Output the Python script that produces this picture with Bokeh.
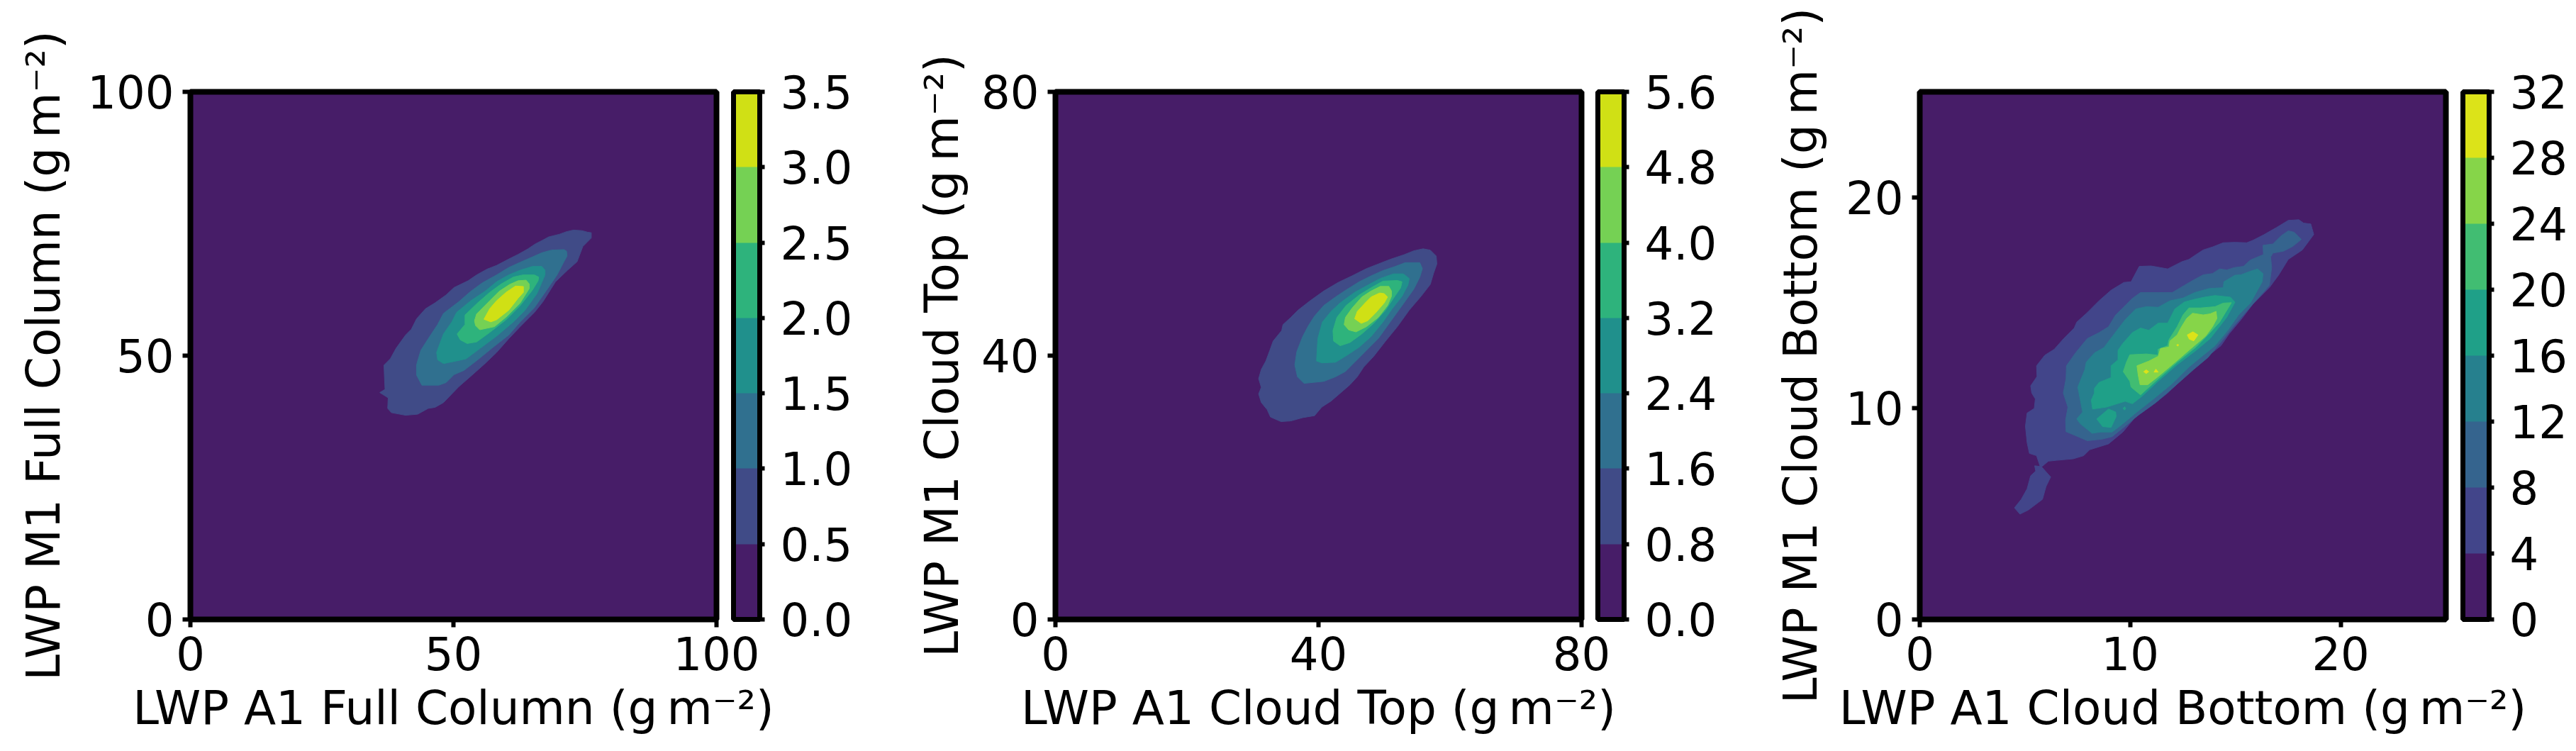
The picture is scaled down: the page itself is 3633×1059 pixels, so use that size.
from bokeh.embed import file_html
from bokeh.layouts import row
from bokeh.models import ColorBar, FixedTicker, LinearColorMapper, Range1d
from bokeh.plotting import figure
from bokeh.resources import INLINE

FONT = "DejaVu Sans"
TICK_SIZE = "64px"
LABEL_SIZE = "66px"

# contour outlines, (x, y) in g m-2
full_05 = [(76.2,73.3),(75.5,73.4),(74.4,73.7),(72.8,73.8),(71.5,73.5),(70.1,73.0),(68.1,72.5),(66.8,71.8),(65.6,71.2),(64.1,70.2),(62.3,69.2),(60.5,68.3),(58.2,67.1),(56.4,66.4),(54.4,65.3),(52.8,64.2),(50.1,62.9),(48.6,61.5),(46.5,60.0),(44.7,58.9),(43.0,57.0),(42.0,55.0),(40.9,53.9),(39.1,51.4),(38.0,49.4),(36.8,48.2),(36.9,45.6),(37.0,43.6),(36.0,43.0),(37.6,42.0),(37.5,40.0),(38.2,39.2),(40.9,38.7),(43.2,38.9),(45.2,40.0),(46.5,40.2),(48.1,41.1),(51.0,44.1),(53.3,46.1),(56.0,48.5),(58.2,50.6),(60.5,53.2),(62.7,55.5),(65.4,58.2),(67.0,60.2),(69.4,64.0),(71.7,66.2),(73.5,67.8),(74.6,70.7),(76.2,72.3)]
full_10 = [(71.5,69.8),(71.0,70.1),(68.6,70.0),(66.8,69.5),(65.0,68.7),(62.7,67.7),(60.5,66.7),(58.2,65.3),(55.5,63.8),(53.3,62.2),(51.0,60.2),(48.1,58.0),(47.0,55.9),(45.2,53.2),(43.8,51.0),(43.0,48.3),(43.0,46.3),(44.0,44.4),(47.2,44.4),(48.6,44.9),(50.1,46.4),(52.0,47.2),(54.6,49.2),(57.3,51.4),(60.5,53.9),(62.7,56.4),(65.4,59.1),(67.7,62.4),(69.7,65.3),(71.0,67.8),(71.6,68.9)]
full_15 = [(67.4,66.2),(66.8,66.9),(65.0,66.9),(62.7,66.2),(60.5,65.3),(58.2,64.0),(56.0,62.2),(53.3,60.4),(50.6,58.2),(49.7,56.4),(48.1,54.1),(46.8,50.6),(47.0,49.2),(48.1,48.5),(50.6,49.0),(52.4,49.4),(55.1,51.4),(58.2,53.7),(61.4,56.4),(63.6,58.6),(65.9,61.8),(67.4,65.3)]
full_20 = [(66.2,64.9),(65.4,65.3),(63.2,65.3),(61.4,64.9),(59.1,63.6),(56.9,62.0),(54.6,60.0),(52.2,57.7),(52.2,55.9),(50.7,54.1),(51.3,53.0),(52.6,52.3),(54.4,52.6),(56.9,54.4),(60.0,56.8),(62.7,59.5),(65.0,62.4),(66.1,64.2)]
full_25 = [(64.4,63.6),(63.8,64.3),(62.3,64.2),(60.7,63.5),(58.7,62.2),(56.9,60.4),(54.4,57.9),(54.0,56.6),(54.2,55.7),(55.0,54.9),(57.8,55.5),(60.0,57.3),(62.7,60.0),(64.4,62.7)]
full_30 = [(63.3,62.0),(63.3,63.1),(61.8,63.2),(60.0,62.0),(58.2,60.4),(56.9,58.9),(55.8,56.9),(57.1,56.4),(58.2,56.8),(60.5,58.6),(62.3,60.9)]

top_08 = [(55.9,56.2),(54.5,55.9),(53.0,55.3),(50.9,54.6),(49.1,53.9),(47.3,53.2),(45.1,52.1),(43.0,51.1),(40.8,49.8),(38.7,48.3),(36.9,46.9),(35.8,45.8),(34.6,44.7),(34.4,43.8),(33.1,42.2),(32.6,40.8),(32.0,39.2),(31.3,37.9),(30.9,36.5),(31.3,35.2),(30.9,34.2),(31.3,32.9),(32.2,31.8),(32.7,30.7),(34.3,30.0),(35.8,30.1),(37.6,30.6),(39.4,30.9),(40.5,32.2),(41.9,33.1),(43.3,34.3),(44.8,35.6),(45.9,36.8),(46.9,38.3),(48.4,39.9),(50.2,42.2),(52.0,44.4),(53.8,46.9),(55.6,49.0),(57.0,50.8),(57.5,52.5),(58.0,53.9),(57.9,55.1),(57.0,56.0)]
top_16 = [(55.4,54.1),(53.2,54.1),(51.6,53.5),(49.8,52.9),(48.0,52.1),(46.2,51.2),(44.1,49.9),(42.6,48.9),(40.8,47.6),(39.4,46.0),(38.5,44.6),(37.6,42.9),(36.7,40.6),(36.4,38.6),(36.8,36.8),(37.8,35.8),(40.8,36.1),(42.6,36.8),(44.1,37.6),(45.5,39.0),(47.3,40.8),(49.1,42.6),(50.9,45.1),(53.0,48.0),(54.5,50.1),(55.4,51.9),(55.8,53.2)]
top_24 = [(53.8,51.7),(52.9,52.4),(51.4,52.4),(49.4,51.7),(47.7,50.8),(45.5,49.6),(43.3,48.0),(41.9,46.7),(40.6,45.1),(39.9,42.6),(39.7,39.2),(40.5,38.9),(42.6,39.0),(44.4,40.1),(46.2,41.3),(48.0,42.9),(49.8,45.1),(51.2,47.1),(52.7,49.0),(53.6,50.7)]
top_32 = [(52.7,51.2),(52.0,51.4),(49.8,51.3),(48.0,50.3),(46.2,49.2),(44.2,47.6),(42.8,45.8),(42.2,43.8),(42.3,42.2),(43.3,41.5),(44.8,42.0),(46.6,43.3),(48.4,44.9),(50.2,46.9),(51.6,49.0),(52.5,50.3)]
top_40 = [(51.1,49.8),(50.7,50.5),(49.4,50.5),(48.0,49.8),(46.6,48.9),(45.1,47.2),(44.1,45.8),(43.9,44.7),(44.6,43.9),(45.7,43.6),(47.3,44.4),(49.1,45.8),(50.5,47.6),(51.1,49.0)]
top_48 = [(50.5,48.9),(50.0,49.4),(49.3,49.5),(48.0,48.9),(47.1,48.0),(45.9,46.7),(45.5,45.6),(46.5,44.9),(47.5,45.3),(48.7,46.5),(50.0,48.0)]

bottom_4 = [(18.72,18.24),(18.58,18.74),(18.24,18.78),(18.01,18.94),(17.51,18.91),(16.95,18.57),(16.33,18.22),(15.82,17.96),(15.54,17.85),(14.98,17.87),(14.42,17.85),(13.91,17.65),(13.47,17.51),(13.13,17.29),(12.79,17.06),(12.45,16.95),(11.78,16.61),(11.33,16.69),(10.99,16.75),(10.43,16.73),(10.04,16.00),(9.70,15.97),(9.09,15.60),(8.52,15.10),(7.96,14.54),(7.46,14.09),(7.34,13.81),(6.84,13.31),(6.39,12.80),(5.94,12.52),(5.55,12.02),(5.57,11.51),(5.27,11.07),(5.32,10.73),(5.49,10.45),(5.44,10.00),(5.10,9.78),(5.02,9.16),(5.10,8.38),(5.21,7.87),(5.55,7.76),(5.72,7.25),(5.46,7.28),(5.51,7.03),(5.27,6.81),(5.10,6.19),(4.82,5.69),(4.50,5.29),(4.76,4.99),(5.15,5.18),(5.83,5.69),(6.00,6.30),(6.22,6.75),(5.79,7.23),(6.11,7.50),(6.50,7.54),(7.29,7.61),(7.79,7.76),(8.07,8.04),(8.97,8.32),(9.65,8.88),(10.21,9.55),(10.99,10.11),(11.78,10.73),(12.57,11.51),(13.47,12.30),(14.31,12.97),(14.70,13.53),(15.26,14.20),(15.82,14.93),(16.61,15.72),(17.06,16.33),(17.51,17.06),(18.18,17.51)]
bottom_8 = [(18.13,18.01),(17.79,18.35),(17.51,18.41),(17.17,18.18),(16.78,17.79),(16.31,17.73),(16.33,17.29),(15.71,17.03),(15.38,16.73),(14.93,16.67),(14.59,16.56),(14.25,16.61),(13.91,16.39),(13.47,16.33),(13.02,16.09),(12.57,15.83),(12.00,15.49),(11.33,15.49),(10.49,15.49),(10.10,15.21),(9.65,14.76),(9.31,14.43),(8.97,13.87),(8.52,13.59),(7.96,13.31),(7.40,12.63),(6.97,12.02),(6.95,11.40),(6.82,10.73),(7.04,10.06),(6.93,9.44),(6.95,8.90),(7.40,8.71),(7.96,8.47),(8.64,8.54),(9.14,8.66),(9.76,9.16),(10.43,9.72),(11.22,10.28),(12.00,10.95),(13.02,11.85),(13.69,12.41),(14.36,13.20),(14.93,13.92),(15.66,14.76),(16.16,15.32),(16.61,15.83),(16.72,16.67),(16.67,17.17),(16.78,17.36),(17.28,17.45),(17.73,17.68)]
bottom_12 = [(16.31,16.39),(16.05,16.61),(15.71,16.50),(15.26,16.33),(14.98,16.31),(14.45,16.00),(14.42,15.72),(13.75,15.68),(13.07,15.49),(12.51,15.23),(11.89,15.10),(11.33,14.79),(10.77,14.82),(10.26,14.71),(9.76,14.20),(9.42,13.76),(8.75,12.88),(8.30,12.63),(7.91,12.19),(7.85,11.85),(7.51,11.01),(7.74,9.83),(7.46,9.50),(7.63,9.27),(8.19,8.82),(8.58,8.88),(9.14,8.88),(9.65,9.27),(10.32,9.83),(11.11,10.45),(12.00,11.18),(12.79,11.96),(13.47,12.52),(14.03,12.97),(14.59,13.64),(15.15,14.43),(15.71,14.99),(16.27,16.00)]
bottom_16 = [(14.98,15.04),(14.76,15.27),(14.03,15.35),(13.52,15.27),(13.02,15.16),(12.57,15.04),(12.12,14.71),(11.78,14.04),(11.33,14.04),(10.88,13.70),(10.49,13.81),(10.10,13.59),(9.65,13.08),(9.42,12.75),(9.42,12.30),(9.09,12.02),(9.09,11.46),(8.52,11.23),(8.30,10.95),(8.30,10.73),(8.15,10.39),(8.21,9.97),(8.86,10.06),(9.76,10.34),(10.10,10.22),(10.54,10.56),(11.33,11.29),(12.23,12.07),(13.13,12.75),(13.80,13.31),(14.59,14.32)]
bottom_16_low = [(8.41,9.50),(8.97,9.97),(9.31,9.83),(9.33,9.61),(9.09,9.10),(8.69,9.14)]
bottom_16_dot = [(9.66,10.00),(9.73,10.08),(9.79,10.00),(9.73,9.92)]
bottom_20 = [(14.81,15.01),(14.42,14.99),(14.03,14.82),(13.35,14.76),(12.79,14.76),(12.51,14.43),(12.23,13.87),(11.84,13.25),(11.78,12.97),(11.33,12.80),(11.33,12.52),(10.77,12.58),(9.98,12.54),(9.82,12.19),(9.67,11.74),(9.98,11.29),(10.04,11.01),(10.49,10.64),(11.33,11.40),(12.23,12.19),(13.13,12.91),(13.69,13.48),(14.25,14.09)]
bottom_24 = [(14.08,14.60),(13.80,14.48),(13.47,14.43),(12.96,14.51),(12.68,14.26),(12.40,13.81),(12.23,13.48),(11.89,13.20),(11.84,12.91),(11.44,12.84),(11.33,12.47),(10.88,12.24),(10.32,12.02),(10.38,11.57),(10.47,11.12),(10.83,11.12),(11.33,11.51),(12.00,12.07),(12.79,12.75),(13.58,13.42),(13.91,13.87),(14.12,14.26)]
bottom_28_a = [(12.71,13.48),(12.98,13.63),(13.22,13.48),(13.02,13.20),(12.81,13.28)]
bottom_28_b = [(12.21,13.00),(12.25,13.04),(12.31,13.00),(12.25,12.95)]
bottom_28_c = [(10.64,11.74),(10.76,11.83),(10.88,11.74),(10.76,11.65)]
bottom_28_d = [(11.13,11.72),(11.22,11.86),(11.33,11.72)]

full_levels = [0.0, 0.5, 1.0, 1.5, 2.0, 2.5, 3.0, 3.5]
top_levels = [0.0, 0.8, 1.6, 2.4, 3.2, 4.0, 4.8, 5.6]
bottom_levels = [0, 4, 8, 12, 16, 20, 24, 28, 32]

colors7 = ["#471d68", "#404b87", "#30708f", "#20908c", "#2eb37c", "#75d154", "#d0e015"]
colors8 = ["#471d68", "#42458a", "#35648e", "#26808e", "#1fa088", "#41bd72", "#86d549", "#dce319"]


def style_axis(ax, ticks):
    ax.ticker = FixedTicker(ticks=ticks)
    ax.minor_tick_line_color = None
    ax.axis_line_color = None
    ax.major_tick_line_color = "black"
    ax.major_tick_line_width = 6
    ax.major_tick_in = 0
    ax.major_tick_out = 11
    ax.major_label_text_font = FONT
    ax.major_label_text_font_size = TICK_SIZE
    ax.major_label_text_color = "black"
    ax.axis_label_text_font = FONT
    ax.axis_label_text_font_size = LABEL_SIZE
    ax.axis_label_text_font_style = "normal"
    ax.axis_label_text_color = "black"


def make_panel(name, limit, ticks, shapes, colors, levels, fmt, left, right, gap, standoff):
    p = figure(width=left + 742 + right, height=1059, frame_width=742, frame_height=744,
               min_border_left=left, min_border_right=right, min_border_top=129, min_border_bottom=186,
               x_range=Range1d(0, limit), y_range=Range1d(0, limit),
               toolbar_location=None, output_backend="svg")
    p.grid.visible = False
    p.outline_line_color = "black"
    p.outline_line_width = 8
    p.background_fill_color = colors[0]
    p.border_fill_color = "white"

    for rings, color in zip(shapes, colors[1:]):
        p.patches([[pt[0] for pt in r] for r in rings], [[pt[1] for pt in r] for r in rings],
                  fill_color=color, line_color=color, line_width=1)

    style_axis(p.xaxis[0], ticks)
    style_axis(p.yaxis[0], ticks)
    p.xaxis.major_label_standoff = 13
    p.yaxis.major_label_standoff = 12
    p.xaxis.axis_label = f"LWP A1 {name} (g\u2009m\u207b\u00b2)"
    p.yaxis.axis_label = f"LWP M1 {name} (g\u2009m\u207b\u00b2)"
    p.xaxis.axis_label_standoff = 12
    p.yaxis.axis_label_standoff = standoff

    mapper = LinearColorMapper(palette=colors, low=levels[0], high=levels[-1])
    bar = ColorBar(color_mapper=mapper, ticker=FixedTicker(ticks=levels), width=37, height=744,
                   location=(gap, 0), padding=0, margin=0, label_standoff=22,
                   bar_line_color="black", bar_line_width=7,
                   major_tick_line_color="black", major_tick_line_width=6, major_tick_in=0, major_tick_out=7,
                   minor_tick_line_color=None, border_line_color=None, background_fill_color=None,
                   major_label_text_font=FONT, major_label_text_font_size=TICK_SIZE, major_label_text_color="black",
                   major_label_overrides={v: fmt % v for v in levels})
    p.add_layout(bar, "right")
    return p


fig1 = make_panel("Full Column", 100, [0, 50, 100],
                  [[full_05], [full_10], [full_15], [full_20], [full_25], [full_30]],
                  colors7, full_levels, "%.1f", 268, 250, 24, 20)
fig2 = make_panel("Cloud Top", 80, [0, 40, 80],
                  [[top_08], [top_16], [top_24], [top_32], [top_40], [top_48]],
                  colors7, top_levels, "%.1f", 228, 240, 23, 14)
fig3 = make_panel("Cloud Bottom", 25, [0, 10, 20],
                  [[bottom_4], [bottom_8], [bottom_12], [bottom_16, bottom_16_low, bottom_16_dot],
                   [bottom_20], [bottom_24], [bottom_28_a, bottom_28_b, bottom_28_c, bottom_28_d]],
                  colors8, bottom_levels, "%d", 237, 184, 24, 22)

page = row(fig1, fig2, fig3, spacing=0)
open("out.html", "w").write(file_html(page, INLINE))
